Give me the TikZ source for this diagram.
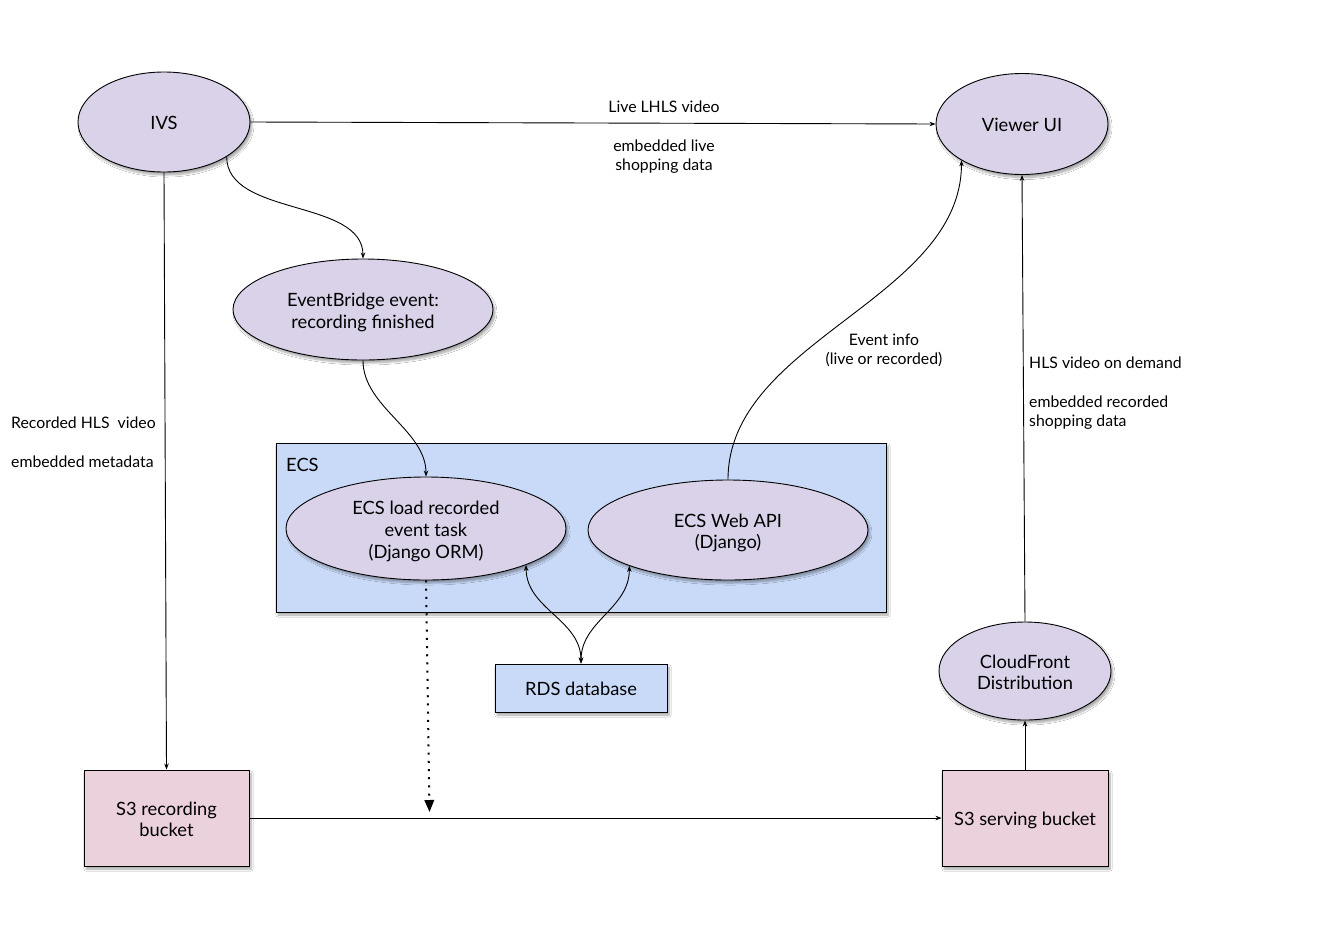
\documentclass[tikz,border=0pt]{standalone}
\usepackage{fontspec}
\setmainfont{Lato}
\usetikzlibrary{shapes.geometric,arrows.meta,shadows.blur}
\definecolor{lav}{RGB}{217,210,233}
\definecolor{ecsblue}{RGB}{201,218,248}
\definecolor{pinkbox}{RGB}{234,209,220}
\newcommand\latostrut{\rule[-0.234em]{0pt}{1.184em}}
\newcommand\nodestrut{\rule[-0.234em]{0pt}{1.34em}}
\begin{document}
\begin{tikzpicture}[x=1pt,y=-1pt,
  base/.style={draw=black,line width=0.9pt,font=\fontsize{18.3}{21.8}\selectfont,align=center,inner sep=0pt,
    execute at begin node=\nodestrut,execute at end node=\nodestrut,
    blur shadow={shadow xshift=2pt,shadow yshift=-3pt,shadow blur steps=8,shadow opacity=35}},
  oval/.style={base,ellipse,fill=lav},
  bluebox/.style={base,rectangle,fill=ecsblue},
  pinkrect/.style={base,rectangle,fill=pinkbox},
  lbl/.style={font=\fontsize{15.8}{19.3}\selectfont,inner sep=0pt,
    execute at begin node=\latostrut,execute at end node=\latostrut},
  conn/.style={line width=0.9pt,-{Stealth[length=6pt,width=4.5pt]}},
  biconn/.style={line width=0.9pt,{Stealth[length=6pt,width=4.5pt]}-{Stealth[length=6pt,width=4.5pt]}},
  dotconn/.style={line width=2pt,dash pattern=on 2pt off 6.2pt,-{Triangle[length=12pt,width=9.5pt]}}
]
\useasboundingbox[fill=white] (0,0) rectangle (1328,935);

% ECS container
\node[bluebox,minimum width=610pt,minimum height=169pt] (ecs) at (581,527.5) {};
\node[lbl,font=\fontsize{18.3}{21.8}\selectfont,anchor=west] (ecslbl) at (286,465) {ECS};

% nodes
\node[oval,minimum width=172pt,minimum height=100pt] (ivs) at (164,122) {IVS};
\node[oval,minimum width=172pt,minimum height=101pt] (viewer) at (1022,124) {Viewer UI};
\node[oval,minimum width=260pt,minimum height=101pt] (eb) at (363,309.5) {\nodestrut EventBridge event:\\recording finished};
\node[oval,minimum width=280pt,minimum height=103pt] (eload) at (426,528.5) {\nodestrut ECS load recorded\\event task\\(Django ORM)};
\node[oval,minimum width=280pt,minimum height=100pt] (api) at (728,530) {\nodestrut ECS Web API\\(Django)};
\node[bluebox,minimum width=172pt,minimum height=48pt] (rds) at (581,688) {RDS database};
\node[oval,minimum width=172pt,minimum height=98pt] (cf) at (1025,671) {\nodestrut CloudFront\\Distribution};
\node[pinkrect,minimum width=165pt,minimum height=96pt] (s3rec) at (166.5,818) {\nodestrut S3 recording\\bucket};
\node[pinkrect,minimum width=166pt,minimum height=96pt] (s3s) at (1025,818) {S3 serving bucket};

\coordinate (dotend) at (429.5,812);

% connectors
\draw[conn] (ivs.east) -- (viewer.west);
\draw[conn] (ivs.-29) to[out=-90,in=90,looseness=0.9] (eb.north);
\draw[conn] (ivs.south) -- (s3rec.north);
\draw[conn] (eb.south) to[out=-90,in=90,looseness=0.9] (eload.north);
\draw[conn] (api.north) to[out=90,in=-90,looseness=0.9] (viewer.-149);
\draw[conn] (cf.north) -- (viewer.south);
\draw[conn] (s3s.north) -- (cf.south);
\draw[conn] (s3rec.east) -- (s3s.west);
\draw[biconn] (eload.-20) to[out=-90,in=90] (rds.north);
\draw[biconn] (api.-160) to[out=-90,in=90] (rds.north);
\draw[dotconn] (eload.south) -- (dotend);

% labels
\node[lbl] (l1) at (664,107) {Live LHLS video};
\node[lbl,align=center] (l2) at (664,155.5) {\latostrut embedded live\\shopping data};
\node[lbl,anchor=west] (l3) at (11,423) {Recorded HLS\ \ video};
\node[lbl,anchor=west] (l4) at (11,462) {embedded metadata};
\node[lbl,align=center] (l5) at (884,349.5) {\latostrut Event info\\(live or recorded)};
\node[lbl,anchor=west] (l6) at (1029,363) {HLS video on demand};
\node[lbl,anchor=west,align=left] (l7) at (1029,411.5) {\latostrut embedded recorded\\shopping data};
\end{tikzpicture}
\end{document}
